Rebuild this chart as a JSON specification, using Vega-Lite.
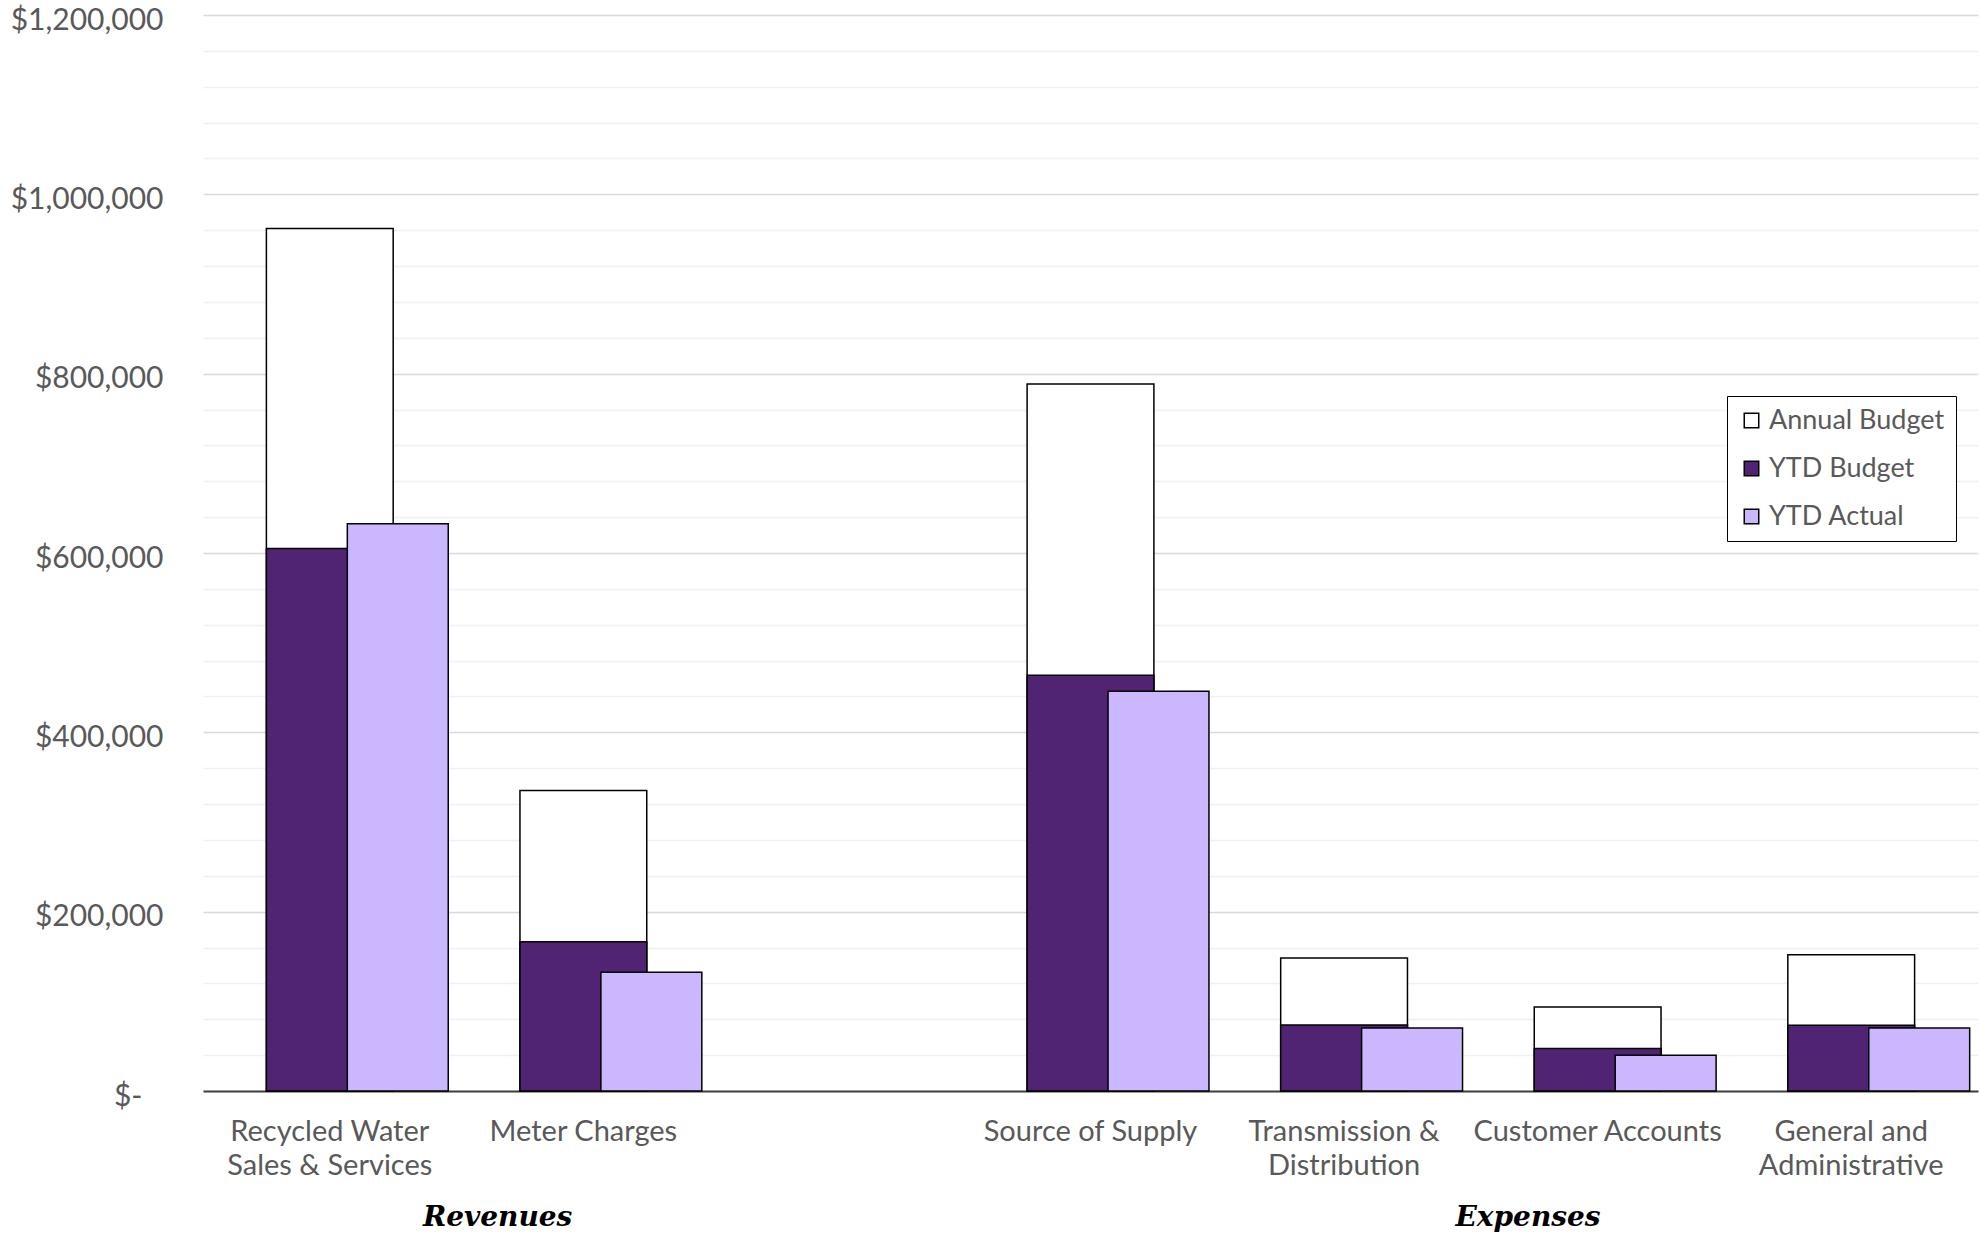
{
  "$schema": "https://vega.github.io/schema/vega-lite/v6.json",
  "width": 1775,
  "height": 1076,
  "autosize": {"type": "none"},
  "padding": {"left": 203, "top": 15, "right": 2, "bottom": 153},
  "background": "white",
  "config": {"view": {"stroke": null}, "font": "Lato"},
  "data": {
    "values": [
      {"category": "Recycled Water Sales & Services", "series": "Annual Budget", "value": 962000},
      {"category": "Recycled Water Sales & Services", "series": "YTD Budget", "value": 605000},
      {"category": "Recycled Water Sales & Services", "series": "YTD Actual", "value": 632500},
      {"category": "Meter Charges", "series": "Annual Budget", "value": 335200},
      {"category": "Meter Charges", "series": "YTD Budget", "value": 166500},
      {"category": "Meter Charges", "series": "YTD Actual", "value": 132300},
      {"category": "Source of Supply", "series": "Annual Budget", "value": 788600},
      {"category": "Source of Supply", "series": "YTD Budget", "value": 463800},
      {"category": "Source of Supply", "series": "YTD Actual", "value": 445900},
      {"category": "Transmission & Distribution", "series": "Annual Budget", "value": 148300},
      {"category": "Transmission & Distribution", "series": "YTD Budget", "value": 73600},
      {"category": "Transmission & Distribution", "series": "YTD Actual", "value": 70200},
      {"category": "Customer Accounts", "series": "Annual Budget", "value": 93600},
      {"category": "Customer Accounts", "series": "YTD Budget", "value": 47300},
      {"category": "Customer Accounts", "series": "YTD Actual", "value": 39800},
      {"category": "General and Administrative", "series": "Annual Budget", "value": 152000},
      {"category": "General and Administrative", "series": "YTD Budget", "value": 73200},
      {"category": "General and Administrative", "series": "YTD Actual", "value": 70200}
    ]
  },
  "layer": [
    {
      "transform": [{"filter": "datum.series == 'Annual Budget'"}],
      "mark": {"type": "bar", "width": {"band": 0.5}, "stroke": "black", "strokeWidth": 1.5},
      "encoding": {
        "x": {
          "field": "category", "type": "nominal",
          "scale": {"type": "band", "domain": ["Recycled Water Sales & Services", "Meter Charges", " ", "Source of Supply", "Transmission & Distribution", "Customer Accounts", "General and Administrative"], "paddingInner": 0, "paddingOuter": 0},
          "axis": {
            "title": null, "orient": "bottom", "domain": true, "domainColor": "#404040", "domainWidth": 2,
            "ticks": false, "tickSize": 0, "grid": false, "labelAngle": 0,
            "labelFont": "Lato", "labelFontSize": 29, "labelColor": "#595959",
            "labelPadding": 26, "labelLineHeight": 34, "labelLimit": 400, "labelOverlap": false, "labelFlush": false, "labelBaseline": "top",
            "labelExpr": "datum.label == 'Recycled Water Sales & Services' ? ['Recycled Water', 'Sales & Services'] : datum.label == 'Transmission & Distribution' ? ['Transmission &', 'Distribution'] : datum.label == 'General and Administrative' ? ['General and', 'Administrative'] : datum.label"
          }
        },
        "y": {
          "field": "value", "type": "quantitative",
          "scale": {"domain": [0, 1200000], "nice": false, "zero": true},
          "axis": {
            "title": null, "orient": "left", "domain": false, "ticks": false, "tickSize": 0, "labels": false,
            "values": [40000, 80000, 120000, 160000, 240000, 280000, 320000, 360000, 440000, 480000, 520000, 560000, 640000, 680000, 720000, 760000, 840000, 880000, 920000, 960000, 1040000, 1080000, 1120000, 1160000],
            "grid": true, "gridWidth": 1.5, "gridColor": "#f0f0f0"
          }
        },
        "color": {
          "field": "series", "type": "nominal",
          "scale": {"domain": ["Annual Budget", "YTD Budget", "YTD Actual"], "range": ["#ffffff", "#512473", "#cbb7fe"]},
          "legend": {
            "title": null, "orient": "none", "legendX": 1524, "legendY": 381,
            "direction": "vertical",
            "symbolType": "square", "symbolSize": 210, "symbolStrokeColor": "black", "symbolStrokeWidth": 1.5,
            "labelFont": "Lato", "labelFontSize": 27, "labelColor": "#595959", "labelOffset": 4, "labelLimit": 300,
            "rowPadding": 20, "padding": 11, "strokeColor": "black", "fillColor": "white"
          }
        }
      }
    },
    {
      "transform": [{"filter": "datum.series == 'YTD Budget'"}],
      "mark": {"type": "bar", "width": {"band": 0.5}, "stroke": "black", "strokeWidth": 1.5},
      "encoding": {
        "x": {
          "field": "category", "type": "nominal",
          "axis": {
            "title": null, "orient": "bottom", "domain": false, "ticks": false, "tickSize": 0, "grid": false, "labelAngle": 0,
            "labelFont": "DejaVu Serif", "labelFontStyle": "italic", "labelFontWeight": "bold", "labelFontSize": 28, "labelColor": "black",
            "labelPadding": 112, "labelAlign": "right",
            "labelOffset": {"condition": {"test": "datum.label == 'Meter Charges'", "value": -11}, "value": 3},
            "labelLimit": 400, "labelOverlap": false, "labelFlush": false, "labelBaseline": "top",
            "labelExpr": "datum.label == 'Meter Charges' ? 'Revenues' : datum.label == 'Customer Accounts' ? 'Expenses' : ''"
          }
        },
        "y": {
          "field": "value", "type": "quantitative",
          "axis": {
            "title": null, "orient": "left", "domain": false, "ticks": false, "tickSize": 0,
            "values": [0, 200000, 400000, 600000, 800000, 1000000, 1200000],
            "grid": true, "gridWidth": 1.5, "gridColor": "#d9d9d9",
            "labelFont": "Lato", "labelFontSize": 30, "labelColor": "#595959",
            "labelPadding": {"condition": {"test": "datum.value == 0", "value": 61}, "value": 40},
            "labelOffset": 5,
            "labelOverlap": false, "labelFlush": false,
            "labelExpr": "datum.value == 0 ? '$-' : '$' + format(datum.value, ',')"
          }
        },
        "color": {"field": "series", "type": "nominal"}
      }
    },
    {
      "transform": [{"filter": "datum.series == 'YTD Actual'"}],
      "mark": {"type": "bar", "width": {"band": 0.398}, "xOffset": 68, "stroke": "black", "strokeWidth": 1.5},
      "encoding": {
        "x": {"field": "category", "type": "nominal", "axis": null},
        "y": {"field": "value", "type": "quantitative", "axis": null},
        "color": {"field": "series", "type": "nominal"}
      }
    }
  ],
  "resolve": {"axis": {"x": "independent", "y": "independent"}}
}
